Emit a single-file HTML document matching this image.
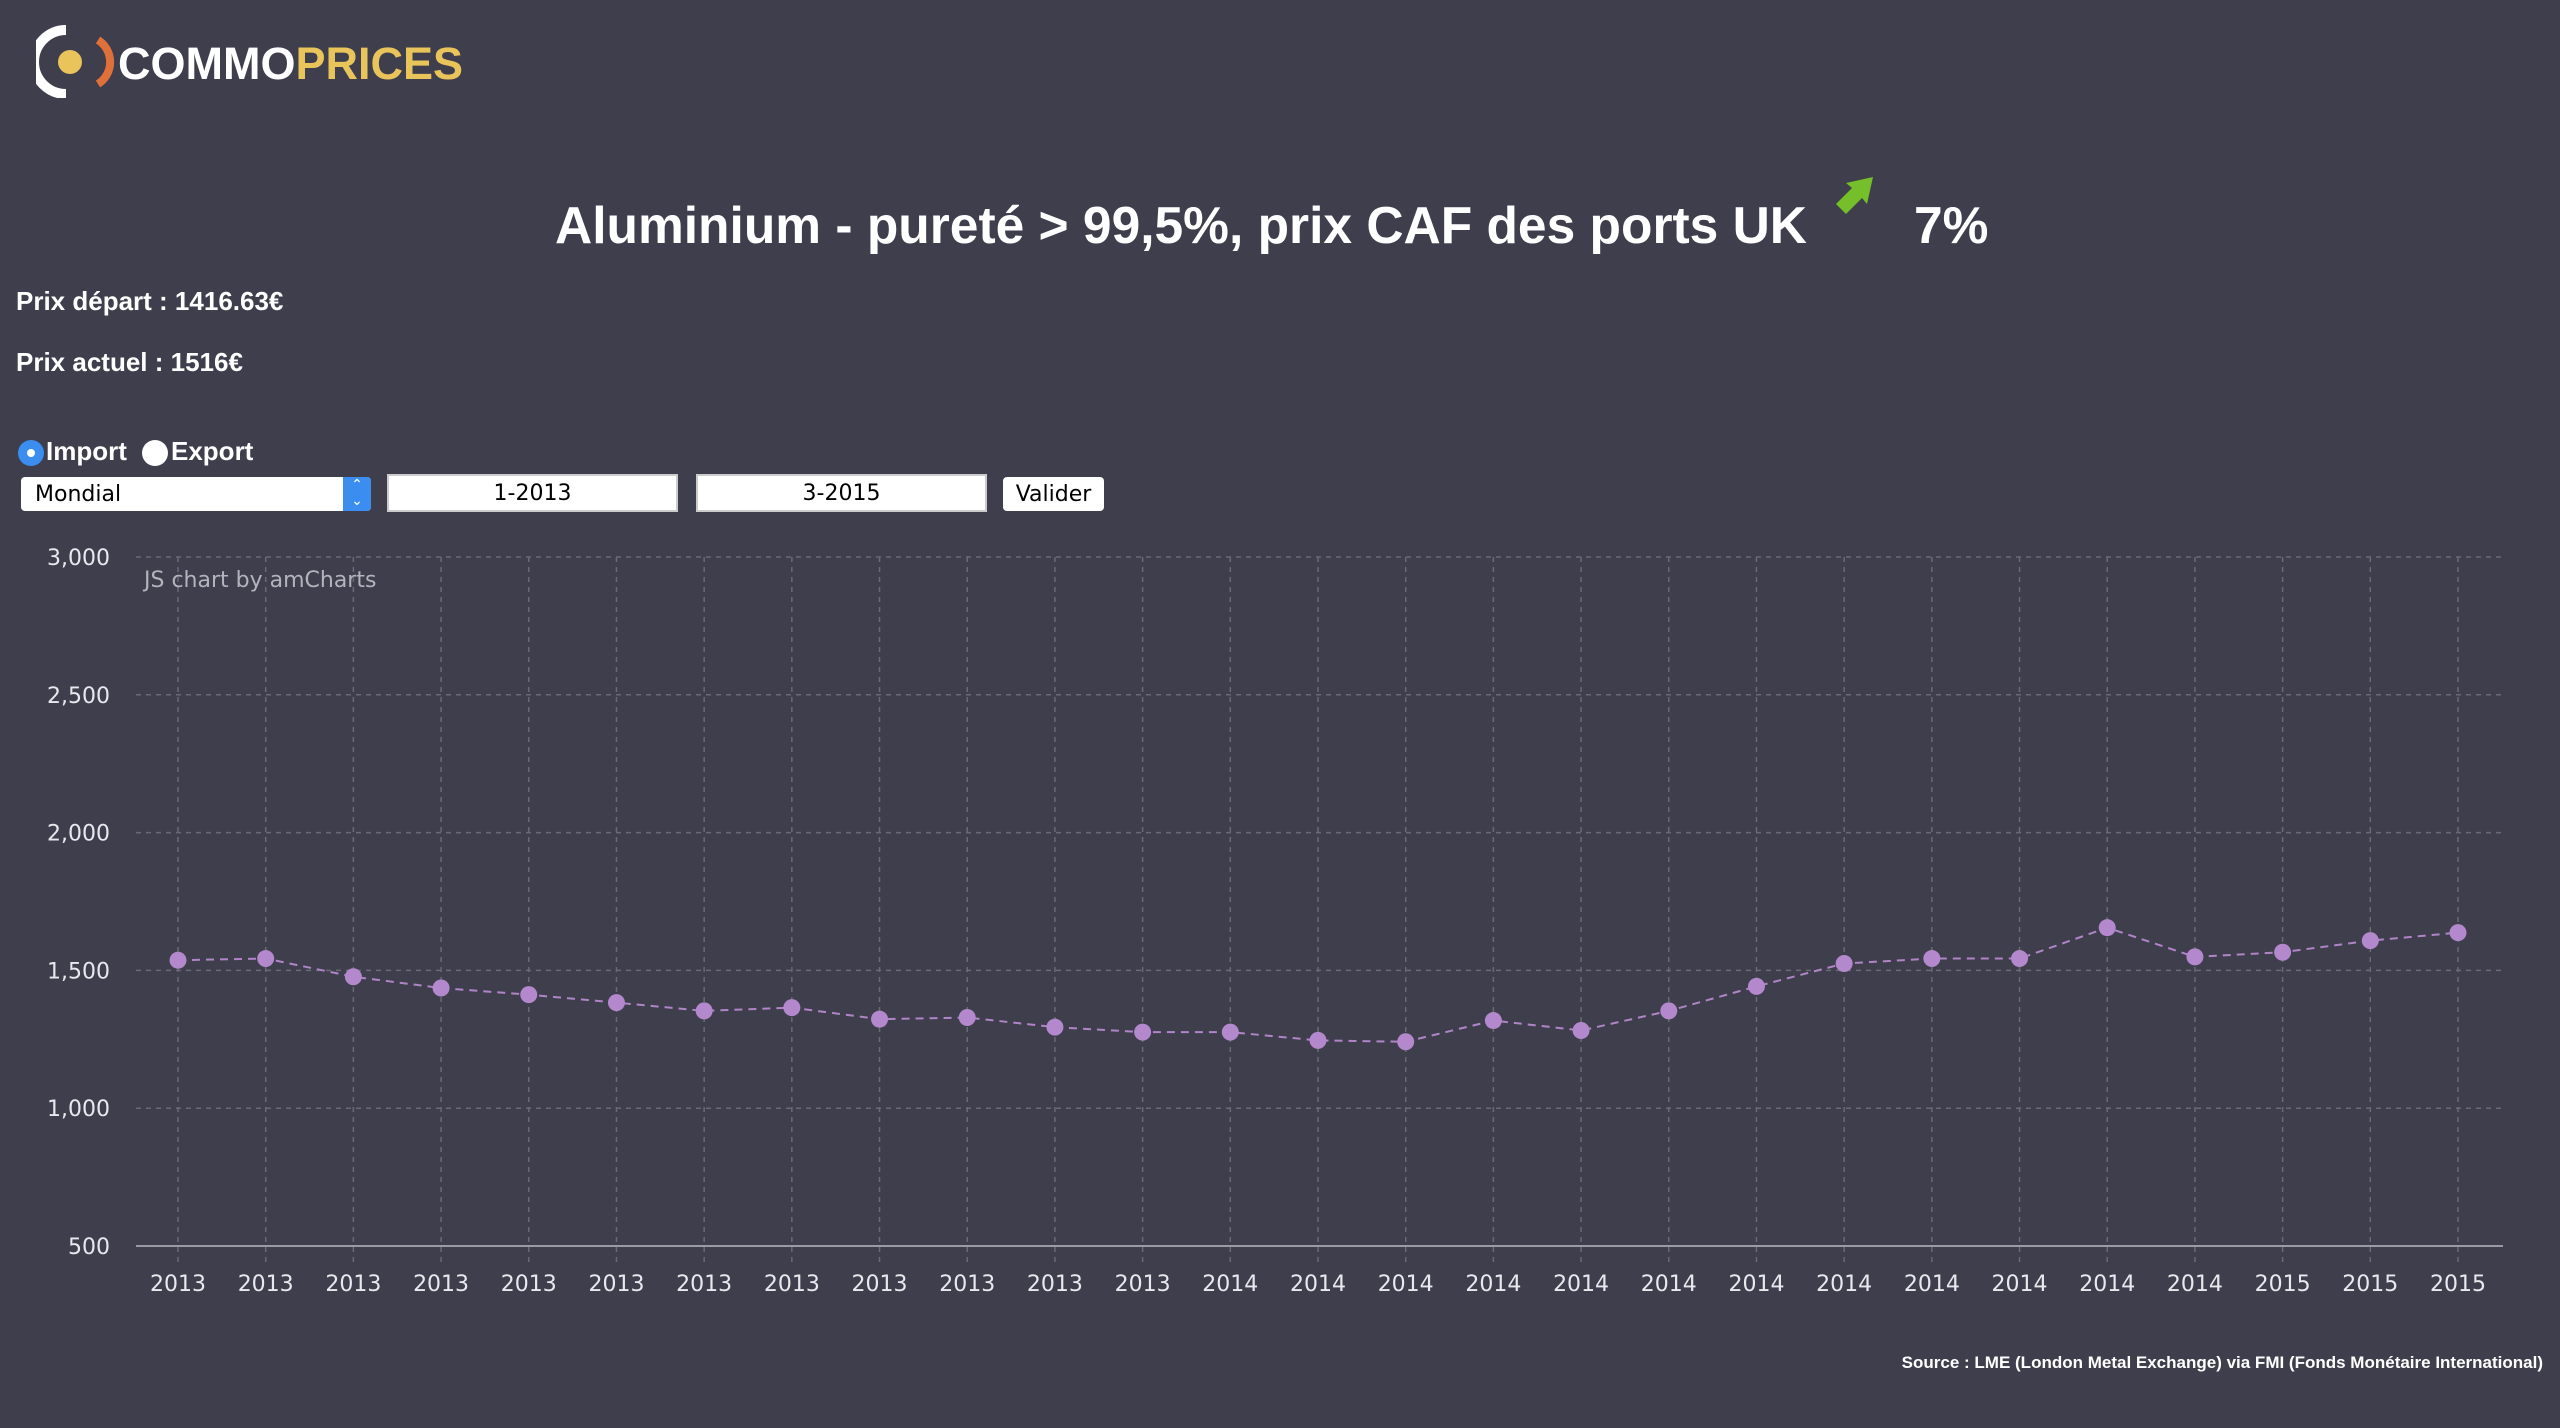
<!DOCTYPE html>
<html><head><meta charset="utf-8"><style>
body{margin:0;width:2560px;height:1428px;background:#3f3e4c;overflow:hidden;font-family:"DejaVu Sans","Liberation Sans",sans-serif;color:#fff;position:relative}
.a{position:absolute}
.b{font-family:"Liberation Sans",sans-serif;font-weight:bold}
.inp{position:absolute;background:#fff;color:#000;font-size:22px;box-sizing:border-box;border:2px solid #ccc;display:flex;align-items:center;justify-content:center;font-family:"DejaVu Sans",sans-serif}
</style></head><body>
<div class="a" style="left:36px;top:24px;height:74px;width:440px">
<svg width="80" height="74" class="a" style="left:0;top:0">
<path d="M30 6 A32 32 0 0 0 30 70" stroke="#fff" stroke-width="10" fill="none"/>
<circle cx="34" cy="38" r="12" fill="#e9c45a"/>
<path d="M62 16 A26 26 0 0 1 62 60" stroke="#e0703a" stroke-width="8" fill="none"/>
</svg>
<div class="a b" style="left:82px;top:14px;font-size:45px;letter-spacing:0px"><span style="color:#fff">COMMO</span><span style="color:#e9c45a">PRICES</span></div>
</div>
<div class="a b" style="left:555px;top:195px;font-size:51.5px;white-space:nowrap">Aluminium - pureté &gt; 99,5%, prix CAF des ports UK</div>
<svg class="a" style="left:1830px;top:170px" width="50" height="50"><path d="M6 34 L22 18 L16 13 L43 7 L37 34 L32 28 L16 44 Z" fill="#74bf2a"/></svg>
<div class="a b" style="left:1914px;top:195px;font-size:51.5px">7%</div>
<div class="a b" style="left:16px;top:286px;font-size:26px">Prix départ : 1416.63€</div>
<div class="a b" style="left:16px;top:347px;font-size:26px">Prix actuel : 1516€</div>
<div class="a" style="left:18px;top:440px;width:26px;height:26px;border-radius:50%;background:#3b8ef0"><div style="margin:9px;width:8px;height:8px;border-radius:50%;background:#fff"></div></div>
<div class="a b" style="left:46px;top:436px;font-size:26px">Import</div>
<div class="a" style="left:142px;top:440px;width:26px;height:26px;border-radius:50%;background:#fff"></div>
<div class="a b" style="left:171px;top:436px;font-size:26px">Export</div>
<div class="inp" style="left:21px;top:477px;width:350px;height:34px;border:none;border-radius:4px;justify-content:flex-start;padding-left:14px">Mondial<div class="a" style="right:0;top:0;width:28px;height:34px;background:#3b8ef0;border-radius:0 4px 4px 0;color:#fff;font-size:14px;text-align:center;line-height:16px">⌃<br>⌄</div></div>
<div class="inp" style="left:387px;top:474px;width:291px;height:38px">1-2013</div>
<div class="inp" style="left:696px;top:474px;width:291px;height:38px">3-2015</div>
<div class="inp" style="left:1003px;top:477px;width:101px;height:34px;border:none;border-radius:4px">Valider</div>
<svg class="a" style="left:0;top:0" width="2560" height="1428" id="chart"></svg>
<div class="a b" style="right:17px;top:1353px;font-size:17px">Source : LME (London Metal Exchange) via FMI (Fonds Monétaire International)</div>
<script>
const categories=["2013","2013","2013","2013","2013","2013","2013","2013","2013","2013","2013","2013","2014","2014","2014","2014","2014","2014","2014","2014","2014","2014","2014","2014","2015","2015","2015"];
const prices=[1537,1543,1477,1436,1412,1383,1353,1365,1323,1329,1294,1276,1276,1246,1241,1318,1282,1353,1442,1525,1543,1543,1655,1549,1566,1608,1637];
const yTicks=[500,1000,1500,2000,2500,3000];
const yTickLabels=["500","1,000","1,500","2,000","2,500","3,000"];
const NS="http://www.w3.org/2000/svg";
const svg=document.getElementById('chart');
const X0=178,X1=2458,Y0=1246,Y1=557,GL=136,GR=2503;
const x=i=>X0+i*(X1-X0)/(categories.length-1);
const y=v=>Y0-(v-500)/(3000-500)*(Y0-Y1);
function mk(t,a){const e=document.createElementNS(NS,t);for(const k in a)e.setAttribute(k,a[k]);svg.appendChild(e);return e;}
yTicks.forEach((v,i)=>{
 const l=mk('line',{x1:GL,x2:GR,y1:y(v),y2:y(v),stroke:i==0?'#9a99a4':'#6a6976','stroke-width':i==0?2:1.5,'stroke-dasharray':i==0?'':'5,5'});
 
 
 const t=mk('text',{x:110,y:y(v)+8,'text-anchor':'end',fill:'#e8e8ee','font-size':22,'font-family':'DejaVu Sans, sans-serif'});
 t.textContent=yTickLabels[i];
 
 
});
categories.forEach((c,i)=>{
 const l=mk('line',{x1:x(i),x2:x(i),y1:Y1,y2:Y0+16,stroke:'#6a6976','stroke-width':1.5,'stroke-dasharray':'5,5'});
 
 
 const t=mk('text',{x:x(i),y:1291,'text-anchor':'middle',fill:'#e8e8ee','font-size':22,'font-family':'DejaVu Sans, sans-serif'});
 t.textContent=c;
 
 
});
const cr=mk('text',{x:144,y:587,fill:'#b4b3bc','font-size':22,'font-family':'DejaVu Sans, sans-serif'});
cr.textContent='JS chart by amCharts';


const pl=mk('polyline',{points:prices.map((v,i)=>x(i)+','+y(v)).join(' '),fill:'none',stroke:'#b085c8','stroke-width':2,'stroke-dasharray':'8,6'});


prices.forEach((v,i)=>{
 const c=mk('circle',{cx:x(i),cy:y(v),r:8.5,fill:'#b388cc'});
 
 
});
</script>
</body></html>
